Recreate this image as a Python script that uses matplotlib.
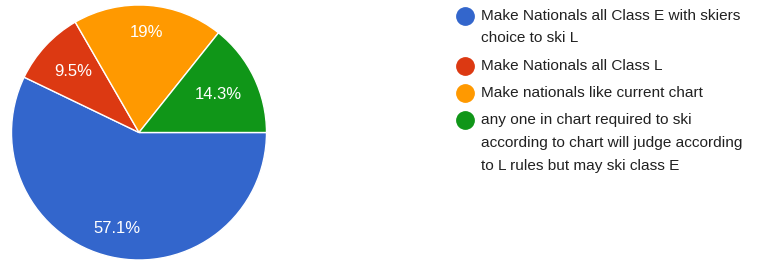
import numpy as np
import matplotlib
matplotlib.use("Agg")
from matplotlib import pyplot as plt

plt.rcParams['font.family'] = ['Liberation Sans', 'DejaVu Sans']

# survey answers (counts out of 21 responses)
labels = [
    "Make Nationals all Class E with skiers\nchoice to ski L",
    "Make Nationals all Class L",
    "Make nationals like current chart",
    "any one in chart required to ski\naccording to chart will judge according\nto L rules but may ski class E",
]
counts = [12, 2, 4, 3]
colors = ["#3366cc", "#dc3912", "#ff9900", "#109618"]
pct_dist = [0.77, 0.70, 0.79, 0.69]

W, H = 772, 260
fig = plt.figure(figsize=(W / 100, H / 100), dpi=100)

cx, cy, r = 139, 132.5, 127.5
ax = fig.add_axes([(cx - r) / W, 1 - (cy + r) / H, 2 * r / W, 2 * r / H])


def fmt(p):
    s = f"{p:.1f}"
    if s.endswith(".0"):
        s = s[:-2]
    return s + "%"


wedges, texts, autotexts = ax.pie(
    counts, colors=colors, startangle=0, counterclock=False, radius=1,
    autopct=fmt, pctdistance=0.75, frame=True,
    wedgeprops=dict(edgecolor="white", linewidth=1),
    textprops=dict(color="white", fontsize=12))
ax.set_xlim(-1, 1)
ax.set_ylim(-1, 1)
ax.axis("off")

# move percentage labels to their own radial distance
for w, t, d in zip(wedges, autotexts, pct_dist):
    ang = np.deg2rad((w.theta1 + w.theta2) / 2)
    t.set_position((d * np.cos(ang), d * np.sin(ang)))

# legend drawn by hand
lx_dot, lx_txt = 465, 481
y = 15.5
line_step, entry_gap = 22.8, 4.5
for lab, col in zip(labels, colors):
    fig.add_artist(plt.Line2D([lx_dot / W], [1 - y / H], marker="o",
                              markersize=12.5, color=col, linestyle="none",
                              transform=fig.transFigure))
    for i, line in enumerate(lab.split("\n")):
        fig.text(lx_txt / W, 1 - (y + i * line_step) / H, line,
                 fontsize=11.1, color="#212121", va="center", ha="left")
    y += line_step * len(lab.split("\n")) + entry_gap

fig.savefig("out.png", dpi=100)
